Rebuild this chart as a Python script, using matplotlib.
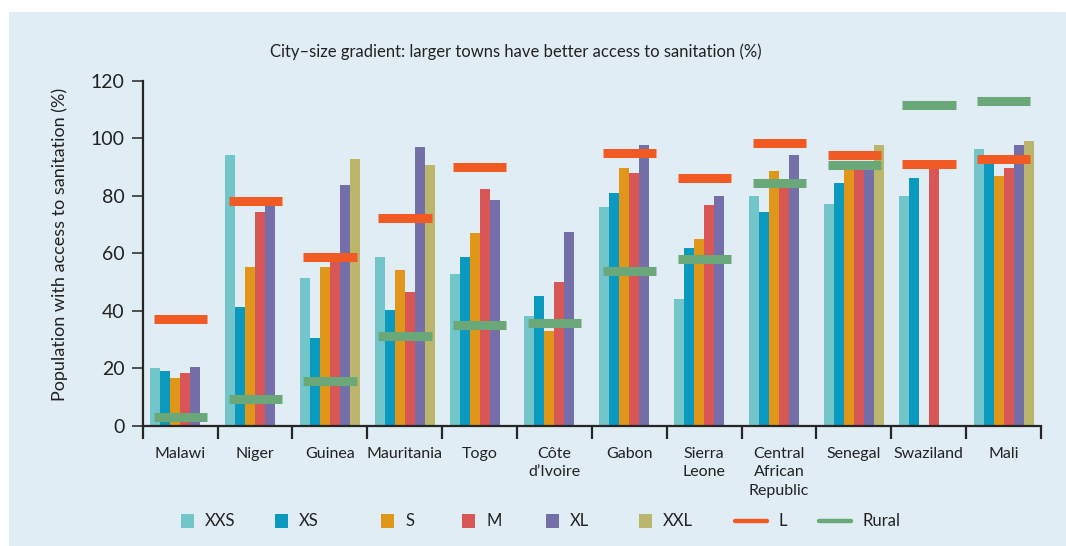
import numpy as np
import matplotlib.pyplot as plt
from matplotlib.patches import Rectangle
from matplotlib.lines import Line2D

plt.rcParams['font.family'] = ['Lato', 'DejaVu Sans']

countries = ['Malawi', 'Niger', 'Guinea', 'Mauritania', 'Togo', 'Côte\nd’Ivoire',
             'Gabon', 'Sierra\nLeone', 'Central\nAfrican\nRepublic', 'Senegal',
             'Swaziland', 'Mali']

nan = np.nan
# city-size classes (bars), nan = no town of that size
xxs = [20.1, 94.0, 51.4, 58.8, 52.9, 38.2, 76.2, 44.1, 80.0, 77.2, 80.0, 96.4]
xs = [19.0, 41.4, 30.6, 40.3, 58.8, 45.2, 81.1, 61.9, 74.5, 84.5, 86.3, 94.3]
s = [16.6, 55.3, 55.3, 54.3, 67.1, 33.0, 89.8, 65.0, 88.7, 90.0, nan, 87.0]
m = [18.4, 74.5, 57.7, 46.6, 82.5, 50.1, 88.0, 76.9, 84.0, 91.0, 90.0, 89.8]
xl = [20.5, 77.8, 83.8, 96.8, 78.6, 67.5, 97.8, 80.0, 94.0, 92.0, nan, 97.8]
xxl = [nan, nan, 92.9, 90.8, nan, nan, nan, nan, nan, 97.8, nan, 99.2]
# large towns and rural areas (horizontal markers)
large = [37.2, 78.3, 58.8, 72.4, 90.1, nan, 94.7, 86.3, 98.2, 94.0, 91.2, 92.6]
rural = [3.0, 9.3, 15.6, 31.3, 35.1, 35.8, 53.9, 58.1, 84.5, 90.8, 111.4, 112.8]

bar_series = [('XXS', xxs, '#72c5c8'), ('XS', xs, '#0a9abf'), ('S', s, '#e09619'),
              ('M', m, '#d85656'), ('XL', xl, '#746fa9'), ('XXL', xxl, '#bbb66c')]
line_series = [('L', large, '#f15a22'), ('Rural', rural, '#6aa87a')]

W, H = 1066, 546
fig = plt.figure(figsize=(W / 100, H / 100), dpi=100, facecolor='white')
fig.patches.append(Rectangle((9 / W, 0), 1, 1 - 12 / H, transform=fig.transFigure,
                             facecolor='#e0edf4', edgecolor='none', zorder=-10))

ax = fig.add_axes([142.7 / W, 1 - 425.7 / H, (1041 - 142.7) / W, (425.7 - 80.7) / H])
ax.set_facecolor('none')

centers = np.arange(len(countries)) + 0.5
bw = 0.1336
for k, (name, vals, col) in enumerate(bar_series):
    vals = np.array(vals)
    ok = ~np.isnan(vals)
    x = centers - 0.4 + bw * (k + 0.5)
    ax.bar(x[ok], vals[ok], width=bw, color=col, linewidth=0, zorder=2)

for name, vals, col in line_series:
    vals = np.array(vals)
    ok = ~np.isnan(vals)
    ax.hlines(vals[ok], centers[ok] - 0.352, centers[ok] + 0.358, colors=col,
              linewidth=6.5, zorder=3)

ax.set_xlim(0, len(countries))
ax.set_ylim(0, 120)
ax.set_yticks(np.arange(0, 121, 20))
ax.set_xticks(np.arange(len(countries) + 1))
ax.set_xticklabels([])
ax.set_xticks(centers, countries, minor=True)
for lab in ax.get_xticklabels(minor=True):
    lab.set_linespacing(1.45)

for side in ['top', 'right']:
    ax.spines[side].set_visible(False)
for side in ['left', 'bottom']:
    ax.spines[side].set_color('#262626')
    ax.spines[side].set_linewidth(1.6)
ax.tick_params(axis='y', direction='out', length=8, width=1.1, color='#262626',
               labelsize=14, labelcolor='#222222', pad=5)
ax.tick_params(axis='x', which='major', direction='out', length=9.5, width=1.6,
               color='#262626')
ax.tick_params(axis='x', which='minor', length=0, pad=15, labelsize=11.5,
               labelcolor='#222222')

ax.set_ylabel('Population with access to sanitation (%)', fontsize=13, color='#222222')
ax.yaxis.set_label_coords(-0.083, 0.524)
fig.text(516 / W, 1 - 52 / H,
         'City–size gradient: larger towns have better access to sanitation (%)',
         ha='center', va='center', fontsize=12, color='#222222')

# legend laid out by hand along the bottom
leg_x = [181, 275, 381, 462, 546, 639]
leg_y = 1 - 521 / H
for (name, vals, col), x0 in zip(bar_series, leg_x):
    fig.patches.append(Rectangle((x0 / W, 1 - 528 / H), 13 / W, 14 / H,
                                 transform=fig.transFigure, facecolor=col,
                                 edgecolor='none'))
    fig.text((x0 + 24) / W, leg_y, name, ha='left', va='center', fontsize=12,
             color='#222222')
for (name, vals, col), x0 in zip(line_series, [733, 817]):
    fig.lines.append(Line2D([(x0 + 2) / W, (x0 + 34) / W], [leg_y, leg_y],
                            transform=fig.transFigure, color=col, linewidth=3.2,
                            solid_capstyle='round'))
    fig.text((x0 + 45) / W, leg_y, name, ha='left', va='center', fontsize=12,
             color='#222222')

fig.savefig('out.png', dpi=100, facecolor='white')
